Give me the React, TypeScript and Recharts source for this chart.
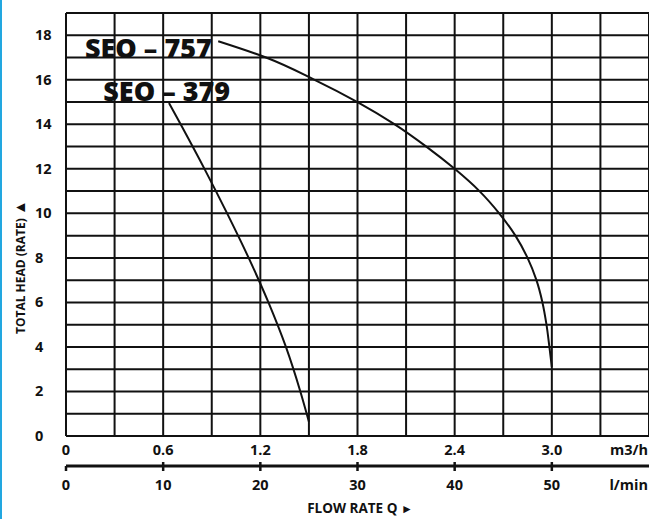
import React from 'react';
import { LineChart, Line, XAxis, YAxis, CartesianGrid, ReferenceDot } from 'recharts';

// flow rate in m3/h, head in m
const seo757Flow = [0.94, 1.235, 1.535, 1.8, 2.03, 2.225, 2.4, 2.553, 2.675, 2.775, 2.85, 2.905, 2.942, 2.967, 2.985, 3.0];
const seo757Head = [17.73, 17, 16, 15, 14, 13, 12, 11, 10, 9, 8, 7, 6, 5, 4, 3.1];

const seo379Flow = [0.636, 0.708, 0.855, 0.995, 1.128, 1.25, 1.358, 1.447, 1.5];
const seo379Head = [14.96, 14, 12, 10, 8, 6, 4, 2, 0.64];

const m3hTicks = [0, 0.3, 0.6, 0.9, 1.2, 1.5, 1.8, 2.1, 2.4, 2.7, 3.0, 3.3, 3.6];
const m3hLabels = ['0', '', '0.6', '', '1.2', '', '1.8', '', '2.4', '', '3.0', '', 'm3/h'];
const lminTicks = [0, 10, 20, 30, 40, 50, 60];
const lminLabels = ['0', '10', '20', '30', '40', '50', 'l/min'];
const headTicks = [0, 1, 2, 3, 4, 5, 6, 7, 8, 9, 10, 11, 12, 13, 14, 15, 16, 17, 18, 19];

const seo757 = seo757Flow.map((q, i) => ({ q, h: seo757Head[i] }));
const seo379 = seo379Flow.map((q, i) => ({ q, h: seo379Head[i] }));
// invisible series so the l/min axis gets built
const lminScale = lminTicks.map((q) => ({ q, h: 0 }));

const FONT = '"Open Sans", sans-serif';

const M3hTick = (props: any) => {
  const { x, y, index } = props;
  const label = m3hLabels[index];
  if (!label) return null;
  const last = index === m3hLabels.length - 1;
  return (
    <text x={last ? x - 1 : x} y={y + 19} textAnchor={last ? 'end' : 'middle'} fontFamily={FONT} fontWeight={700} fontSize={14.5} fill="#111">
      {label}
    </text>
  );
};

const LminTick = (props: any) => {
  const { x, y, index } = props;
  const last = index === lminLabels.length - 1;
  return (
    <g>
      {!last && <line x1={x} x2={x} y1={index === 0 ? y : y - 4} y2={y + 5} stroke="#111" strokeWidth={2.5} />}
      <text x={last ? x - 1 : x} y={y + 24} textAnchor={last ? 'end' : 'middle'} fontFamily={FONT} fontWeight={700} fontSize={14.5} fill="#111">
        {lminLabels[index]}
      </text>
    </g>
  );
};

const HeadTick = (props: any) => {
  const { y, payload } = props;
  const v = payload.value;
  if (v % 2 !== 0 || v > 18) return null;
  return (
    <text x={35} y={y + 5} textAnchor="start" fontFamily={FONT} fontWeight={700} fontSize={14.5} fill="#111">
      {v}
    </text>
  );
};

const modelLabel = (text: string) => (p: any) => (
  <text x={p.cx} y={p.cy} fontFamily={FONT} fontWeight={800} fontSize={27} fill="#111">
    {text}
  </text>
);

export default function App() {
  return (
    <div style={{ position: 'absolute', left: 0, top: 0, width: 649, height: 519, background: '#fff', overflow: 'hidden' }}>
      <div style={{ position: 'absolute', left: 0, top: 0, width: 2, height: 519, background: '#22a7e0' }} />
      <LineChart width={649} height={519} margin={{ top: 13, right: 0, left: 0, bottom: 23 }}>
        <CartesianGrid stroke="#111" strokeWidth={2} />
        <XAxis
          type="number"
          dataKey="q"
          domain={[0, 3.6]}
          ticks={m3hTicks}
          interval={0}
          allowDataOverflow
          axisLine={false}
          tickLine={false}
          tickSize={0}
          tickMargin={0}
          height={30}
          tick={M3hTick}
        />
        <XAxis
          xAxisId="lmin"
          type="number"
          dataKey="q"
          domain={[0, 60]}
          ticks={lminTicks}
          interval={0}
          allowDataOverflow
          axisLine={{ stroke: '#111', strokeWidth: 3 }}
          tickLine={false}
          tickSize={0}
          tickMargin={0}
          height={30}
          tick={LminTick}
          label={{
            content: () => (
              <text x={360} y={513} textAnchor="middle" fontFamily={FONT} fontWeight={700} fontSize={13.5} fill="#111">
                FLOW RATE Q <tspan fontSize={12}>►</tspan>
              </text>
            ),
          }}
        />
        <YAxis
          type="number"
          domain={[0, 19]}
          ticks={headTicks}
          interval={0}
          width={66}
          axisLine={false}
          tickLine={false}
          tick={HeadTick}
          label={{
            content: () => (
              <text
                x={25}
                y={334}
                transform="rotate(-90 25 334)"
                textAnchor="start"
                fontFamily={FONT}
                fontWeight={700}
                fontSize={12}
                fill="#111"
              >
                TOTAL HEAD (RATE) <tspan fontSize={15}>▲</tspan>
              </text>
            ),
          }}
        />
        <Line xAxisId="lmin" data={lminScale} dataKey="h" stroke="none" dot={false} activeDot={false} isAnimationActive={false} />
        <Line data={seo757} dataKey="h" type="monotoneY" stroke="#111" strokeWidth={2} dot={false} isAnimationActive={false} />
        <Line data={seo379} dataKey="h" type="monotoneY" stroke="#111" strokeWidth={2} dot={false} isAnimationActive={false} />
        <ReferenceDot x={0.117} y={17.0} r={0} shape={modelLabel('SEO – 757')} />
        <ReferenceDot x={0.23} y={15.04} r={0} shape={modelLabel('SEO – 379')} />
      </LineChart>
    </div>
  );
}
